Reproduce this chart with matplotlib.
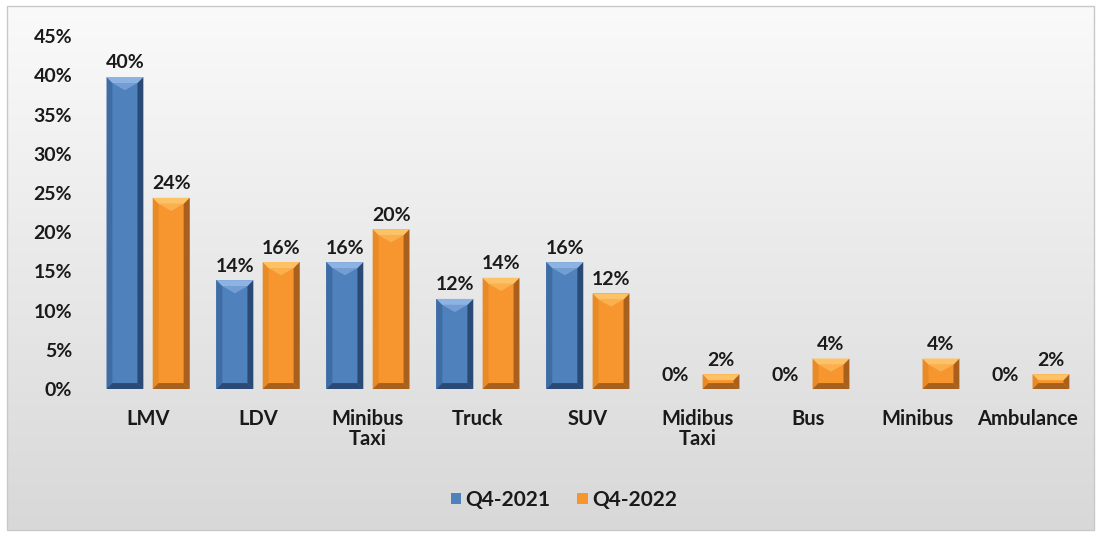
import numpy as np
import matplotlib.pyplot as plt
from matplotlib.patches import Polygon, Rectangle

plt.rcParams['font.family'] = ['Lato', 'DejaVu Sans']

categories = ['LMV', 'LDV', 'Minibus\nTaxi', 'Truck', 'SUV', 'Midibus\nTaxi', 'Bus', 'Minibus', 'Ambulance']
q4_2021 = [39.8, 13.9, 16.2, 11.5, 16.2, 0.0, 0.0, np.nan, 0.0]
q4_2022 = [24.4, 16.2, 20.4, 14.2, 12.2, 1.9, 3.9, 3.9, 1.9]
y_ticks = [0, 5, 10, 15, 20, 25, 30, 35, 40, 45]

blue = ('#4f81bd', '#8db3e2', '#2a4a75', '#3f6ca3')
orange = ('#f7962e', '#fdc266', '#a8601c', '#e88a26')
txt = '#1a1a1a'

fig = plt.figure(figsize=(11.01, 5.33), dpi=100)

# background gradient + frame
bg = fig.add_axes([0, 0, 1, 1], zorder=-10)
grad = np.linspace(0, 1, 256).reshape(-1, 1)
bg.imshow(grad, cmap=plt.matplotlib.colors.LinearSegmentedColormap.from_list('g', ['#fafafa', '#d8d8d8']),
          aspect='auto', extent=[0.006, 0.994, 0.006, 0.988], transform=fig.transFigure)
bg.set_xlim(0, 1)
bg.set_ylim(0, 1)
bg.add_patch(Rectangle((0.006, 0.006), 0.988, 0.982, fill=False, edgecolor='#c8c8c8', lw=1,
                       transform=fig.transFigure))
bg.axis('off')

ax = fig.add_axes([0.0845, 0.27, 0.899, 0.662])
ax.patch.set_alpha(0)
x = np.arange(len(categories))
w = 0.335
off = 0.21
ax.set_xlim(-0.5, len(categories) - 0.5)
ax.set_ylim(0, 45)

px_y = 45 / (0.662 * 533)


def bevel(patch, cols):
    base, light, dark, side = cols
    x0, y0 = patch.get_x(), patch.get_y()
    bw, bh = patch.get_width(), patch.get_height()
    if not bh > 0:
        return
    x1, y1 = x0 + bw, y0 + bh
    dx = bw * 0.16
    dy = min(6 * px_y, bh / 2)
    kw = dict(closed=True, lw=0, zorder=3)
    ax.add_patch(Polygon([(x0, y0), (x0 + dx, y0 + dy), (x0 + dx, y1 - dy), (x0, y1)], facecolor=side, **kw))
    ax.add_patch(Polygon([(x1, y0), (x1 - dx, y0 + dy), (x1 - dx, y1 - dy), (x1, y1)], facecolor=dark, **kw))
    ax.add_patch(Polygon([(x0, y0), (x1, y0), (x1 - dx, y0 + dy), (x0 + dx, y0 + dy)], facecolor=dark, **kw))
    ax.add_patch(Polygon([(x0, y1), (x1, y1), (x1 - dx, y1 - dy), (x0 + dx, y1 - dy)], facecolor=light, **kw))
    if bh > 4 * dy:
        ax.add_patch(Polygon([(x0 + dx, y1 - dy), (x1 - dx, y1 - dy), ((x0 + x1) / 2, y1 - 2.2 * dy)],
                             facecolor=light, alpha=0.6, **kw))


for vals, pos, cols, lab in [(q4_2021, x - off, blue, 'Q4-2021'), (q4_2022, x + off, orange, 'Q4-2022')]:
    v = np.array(vals, dtype=float)
    bars = ax.bar(pos, np.nan_to_num(v), width=w, color=cols[0], edgecolor='none', zorder=2, label=lab)
    for b, val in zip(bars, v):
        bevel(b, cols)
        if np.isnan(val):
            continue
        ax.annotate(f'{val:.0f}%', (b.get_x() + b.get_width() / 2, val), xytext=(0, 4),
                    textcoords='offset points', ha='center', va='bottom',
                    fontsize=14, fontweight='bold', color=txt)

ax.set_xticks(x)
ax.set_xticklabels(categories, fontsize=14.5, fontweight='bold', color=txt, linespacing=1.05)
ax.set_yticks(y_ticks)
ax.set_yticklabels([f'{t}%' for t in y_ticks], fontsize=14, fontweight='bold', color=txt)
ax.tick_params(axis='x', length=0, pad=14)
ax.tick_params(axis='y', length=0, pad=15)
for s in ax.spines.values():
    s.set_visible(False)

leg = fig.legend(loc='center', bbox_to_anchor=(0.512, 0.062), ncol=2, frameon=False,
                 prop=dict(size=15, weight='bold'), handlelength=0.5, handleheight=0.5,
                 handletextpad=0.2, columnspacing=1.3)
for t in leg.get_texts():
    t.set_color(txt)

fig.savefig('out.png', dpi=100)
